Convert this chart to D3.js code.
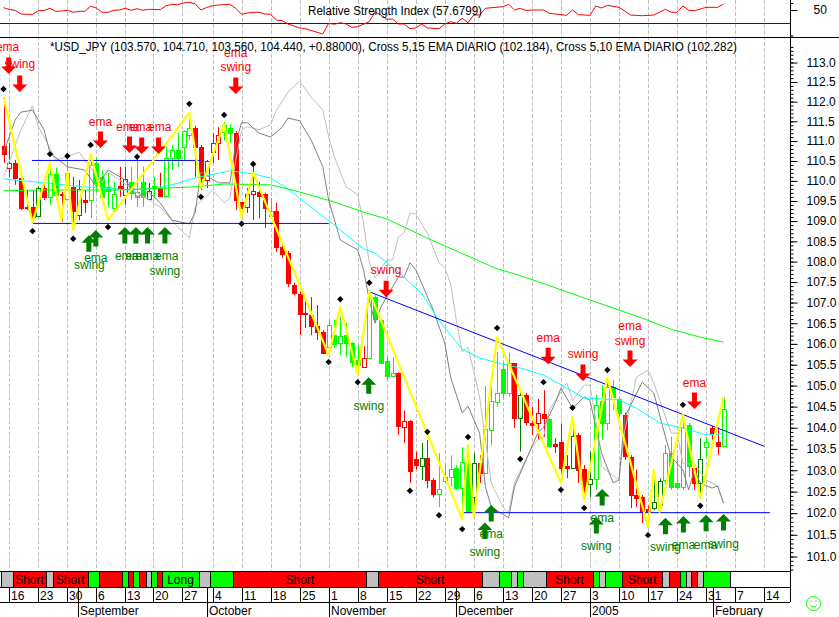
<!DOCTYPE html>
<html lang="en">
<head>
<meta charset="UTF-8">
<title>USD_JPY</title>
<script src="https://d3js.org/d3.v7.min.js"></script>
<style>
    body { margin: 0; background: #fff; }
    text { font-family: "Liberation Sans", Arial, sans-serif; font-size: 12px; }
    .grid line { stroke: #c0c0c0; stroke-dasharray: 4 2; }
    .axis path, .axis line { stroke: #000; }
    .axis text { fill: #000; font-size: 12px; }
</style>
</head>
<body>
<svg id="chart" width="839" height="617"></svg>
<script>
// candles, one entry per trading day. R/G filled, r/g/d hollow (d = dark green)
const bodyTops = [
    110.86,110.44,110.44,110.06,109.34,109.34,109.81,109.81,110.16,110.16,
    109.67,110.19,109.84,109.79,109.51,110.39,110.44,110.09,109.84,109.66,
    109.86,110.04,109.96,109.71,109.96,109.74,109.86,109.81,110.56,110.76,
    110.76,111.24,111.32,111.32,110.84,110.49,110.94,111.14,111.39,111.32,
    111.19,109.46,109.66,109.74,109.71,109.66,109.24,109.24,108.35,108.20,
    107.42,107.20,106.74,106.69,106.42,106.28,106.45,106.20,106.18,106.20,
    106.01,105.60,105.65,107.10,107.12,106.57,105.58,105.29,105.29,104.15,
    104.15,103.25,103.27,103.27,102.76,102.55,102.83,103.02,103.04,103.18,
    103.16,103.16,103.16,103.96,104.62,104.81,105.39,105.53,105.53,104.76,
    104.76,104.10,104.34,104.31,104.19,103.60,103.65,103.09,103.79,103.82,
    103.02,102.78,104.52,104.62,104.95,104.95,104.67,104.29,103.30,102.41,
    102.36,102.09,102.25,102.74,103.39,103.39,102.69,104.00,104.05,103.04,
    103.25,103.65,103.98,103.65,104.44];
const bodyBottoms = [
    110.66,110.31,110.06,109.31,109.31,109.09,109.11,109.59,109.59,109.64,
    109.65,109.54,109.24,109.14,109.46,109.51,109.94,109.59,109.74,109.31,
    109.81,109.64,109.69,109.59,109.59,109.54,109.84,109.61,109.61,110.56,
    110.56,110.84,111.14,110.84,110.06,110.01,110.71,110.94,111.22,111.19,
    109.51,109.31,109.34,109.66,109.61,109.31,109.11,108.35,108.18,107.47,
    107.22,106.71,106.71,106.42,106.28,105.77,105.91,105.98,106.01,106.01,
    105.55,105.48,105.43,105.65,106.59,105.53,105.22,105.22,104.03,104.00,
    102.97,103.11,103.09,102.76,102.43,102.43,102.74,102.83,102.57,102.57,
    102.04,102.36,102.92,102.92,103.93,104.60,104.81,104.81,104.22,104.22,
    104.12,104.05,104.10,104.22,103.55,103.55,103.04,103.04,103.04,102.99,
    102.51,102.67,102.78,104.10,104.10,104.72,104.34,103.32,102.41,102.34,
    102.02,102.04,102.11,102.18,102.76,102.60,102.60,102.60,103.09,102.69,
    102.69,103.53,103.84,103.55,103.57];
const highs = [
    112.10,110.94,110.51,110.14,109.76,109.74,109.86,109.96,110.44,110.31,
    109.71,110.56,110.09,110.01,109.76,110.51,110.56,110.26,110.19,109.96,
    110.34,110.34,110.34,110.59,110.34,109.94,110.09,110.19,110.84,110.89,
    111.19,111.26,111.57,111.37,110.89,110.51,111.19,111.34,111.47,111.42,
    111.24,109.46,109.81,110.34,109.96,109.69,109.56,109.44,108.40,108.25,
    107.47,107.25,107.12,107.12,106.93,106.32,106.57,106.57,106.64,106.49,
    106.03,105.96,105.93,107.30,107.17,106.61,105.67,105.67,105.31,104.39,
    104.17,103.42,103.63,103.70,102.80,103.39,103.11,103.34,103.11,103.53,
    103.58,103.39,103.34,104.98,105.00,105.79,105.55,105.77,105.53,104.88,
    104.81,104.48,104.67,104.88,104.22,103.74,104.08,103.34,104.03,103.87,
    103.11,103.42,104.77,105.00,105.12,105.12,104.69,104.34,103.34,103.00,
    102.41,102.16,102.76,102.80,103.58,103.77,103.34,104.17,104.10,103.09,
    103.74,103.77,104.03,104.00,104.71];
const lows = [
    110.44,110.09,109.89,109.26,109.26,108.97,109.09,109.51,109.39,109.51,
    108.97,109.51,108.94,109.01,109.19,109.06,109.71,109.51,109.34,109.26,
    109.59,109.39,109.51,109.34,109.34,109.51,109.59,109.59,109.59,110.26,
    110.34,110.51,111.01,110.09,109.76,109.81,110.44,110.51,111.01,110.94,
    109.26,109.09,109.19,109.01,109.06,108.82,109.06,108.23,108.08,107.37,
    107.17,106.20,106.37,106.20,106.08,105.74,105.70,105.89,105.72,105.67,
    105.43,105.31,105.41,105.65,106.49,105.50,105.12,105.19,103.82,103.63,
    102.69,103.00,102.76,102.57,102.36,102.13,102.69,102.60,102.53,102.06,
    102.02,102.13,102.69,102.90,103.58,104.48,104.69,104.72,103.98,103.42,
    104.05,103.82,103.70,103.77,103.53,103.39,102.83,102.80,103.02,102.69,
    102.36,102.36,102.53,103.70,103.93,104.41,104.24,103.23,102.11,102.13,
    101.76,101.83,102.06,102.02,102.69,102.53,102.53,102.53,102.83,102.53,
    102.34,103.30,103.70,103.34,103.56];
const candleKinds = [
    "R","r","R","R","R","R","d","R","g","G",
    "R","g","R","r","R","g","G","G","G","g",
    "R","r","G","g","G","d","G","R","g","g",
    "G","g","g","R","R","r","r","r","g","G",
    "R","R","r","r","R","R","g","R","R","R",
    "R","R","R","R","R","R","g","G","g","G",
    "G","G","r","g","G","G","G","g","R","r",
    "R","R","d","R","R","g","g","g","G","g",
    "G","d","R","g","g","g","G","g","R","d",
    "R","R","r","R","G","R","R","R","d","R",
    "R","d","g","G","g","G","G","R","R","R",
    "R","R","d","d","g","G","G","g","G","R",
    "d","g","R","R","g"];

// overlays as day index + price
const zigzagDays = [0,5,8,10,11,12,15,18,32,34,38,41,43,56,58,61,63,79,80,81,85,96,98,100,104,111,112,113,117,120,124];
const zigzagPrices = [112.10,108.95,110.44,109.01,110.21,108.77,110.66,109.01,111.70,109.81,111.42,109.09,110.19,105.72,106.88,105.26,107.25,101.85,103.58,101.90,106.15,102.69,104.24,102.29,105.17,101.67,103.00,102.02,104.29,102.34,104.71];

const diamondDays = [0,5,8,11,12,15,18,23,32,34,38,41,43,56,58,61,63,70,73,75,79,80,85,89,93,96,98,100,104,111,117,120];
const diamondPrices = [112.31,108.74,110.66,110.61,108.55,110.89,108.84,110.59,111.93,109.59,111.65,108.92,110.41,105.55,107.07,105.07,107.47,102.51,103.89,101.94,101.62,103.77,106.37,103.25,105.07,102.53,104.46,102.11,105.36,101.48,104.53,102.16];

const cyanDays = [0,7,14,22,26,29,33,39,43,46,49,52,57,62,64,68,72,75,79,82,85,89,93,97,100,106,109,113,117,121,124];
const cyanPrices = [110.04,109.94,109.84,109.76,109.81,109.89,110.06,110.24,110.16,110.06,109.79,109.44,108.89,108.30,108.20,107.73,107.22,106.55,105.86,105.65,105.53,105.41,105.24,104.93,104.69,104.65,104.45,104.10,103.98,103.82,103.84];

const greenDays = [0,6,20,33,38,46,51,57,62,66,74,85,88,92,100,110,115,120,124];
const greenPrices = [109.74,109.76,109.76,109.84,109.91,109.89,109.71,109.46,109.21,109.04,108.50,107.81,107.69,107.50,107.10,106.61,106.34,106.15,106.03];

const darkDays = [0,2,3,5,7,8,11,14,16,18,21,23,25,27,29,32,33,34,37,39,40,41,42,44,46,48,49,51,53,55,56,58,61,62,63,64,65,68,69,70,71,74,76,77,79,80,82,83,84,87,88,90,92,93,95,96,98,100,101,103,105,106,107,110,112,114,115,117,118,119,120,122,123,124];
const darkPrices = [110.69,111.52,111.72,111.77,111.27,110.69,110.34,110.26,109.84,110.26,110.01,109.59,109.71,109.44,109.01,108.92,109.19,110.21,109.94,109.94,110.94,111.45,111.45,111.19,111.09,111.34,111.57,111.50,111.01,110.34,109.51,108.52,108.28,107.79,107.05,106.49,106.88,107.61,107.61,107.96,107.79,106.81,106.01,105.19,104.34,104.50,103.86,102.60,102.13,101.88,102.60,103.23,103.86,104.00,104.57,104.93,104.45,104.72,104.64,103.39,102.69,102.76,104.24,105.07,104.81,103.77,103.30,103.00,102.53,103.00,102.69,102.57,102.62,102.22];

const lightDays = [0,3,5,6,7,9,11,13,17,18,20,23,27,30,32,33,36,38,39,40,41,42,44,46,47,49,51,53,55,56,57,59,61,62,63,64,66,67,68,69,70,71,73,75,76,77,78,79,80,82,83,84,86,87,88,91,92,93,94,97,98,100,101,102,103,106,107,109,111,112,114,115,116,117,119,121,123,124];
const lightPrices = [110.09,111.27,111.88,111.35,111.09,110.51,110.59,110.71,109.94,110.21,110.01,109.69,109.34,108.84,108.57,109.34,109.76,109.44,109.56,110.51,111.27,111.35,111.27,111.40,111.77,112.23,112.51,112.10,111.77,111.09,110.59,109.84,109.64,108.94,107.96,107.59,108.03,108.03,108.60,108.69,109.19,109.16,108.69,107.96,107.84,107.44,106.55,105.79,105.91,104.72,103.70,102.69,102.13,102.00,102.69,103.53,103.70,103.77,104.41,105.05,104.64,105.00,105.00,104.17,103.07,102.76,103.93,105.19,105.36,105.05,104.24,103.86,103.86,103.14,103.14,102.76,102.62,102.22];

// blue trend lines: [day, price, day, price]
const trendLines = [
    [4.9, 110.50, 34, 110.50],
    [5, 108.93, 56, 108.93],
    [63, 107.25, 131, 103.55],
    [79, 102.00, 132, 102.00]];

// signals
const redArrowDays = [0.9,2.8,16.7,21.7,23.8,26.7,40,65.9,93.8,99.8,107.9,119];
const redArrowPrices = [112.69,112.23,110.81,110.69,110.66,110.66,112.18,107.12,105.50,105.10,105.43,104.43];
const greenArrowDays = [14.7,15.9,20.9,22.8,24.8,27.8,62.9,84,82.9,103.1,102.1,114,117.1,121,124];
const greenArrowPrices = [108.64,108.77,108.84,108.84,108.84,108.84,105.19,102.18,101.77,102.55,101.90,101.88,101.92,101.95,101.97];

const redLabels = ["ema","swing","ema","ema","ema","ema","ema","swing","swing","ema","swing","ema","swing","ema"];
const redLabelDays = [0.7,2.8,16.7,21.4,23.6,26.9,40,40,65.9,93.8,99.8,107.9,107.9,119];
const redLabelPrices = [113.38,112.95,111.47,111.34,111.34,111.34,113.23,112.87,107.79,106.13,105.74,106.42,106.06,105.05];
const greenLabels = ["swing","ema","ema","ema","ema","ema","swing","swing","ema","swing","ema","swing","swing","ema","ema","swing"];
const greenLabelDays = [14.8,15.9,21.2,23,24.8,28.1,27.8,62.9,84,82.9,103.1,102.1,114,117.1,120.9,124];
const greenLabelPrices = [107.91,108.08,108.13,108.13,108.13,108.13,107.76,104.50,101.50,101.09,101.88,101.23,101.21,101.25,101.25,101.28];

// RSI
const rsiDays = [0,1,2,3,4,5,6,7,8,9,10,11,12,13,14,15,16,17,18,19,20,21,22,23,24,25,27,28,29,30,31,32,33,34,35,36,37,39,40,41,42,43,44,45,46,47,48,49,51,52,55,56,57,58,59,60,61,63,64,65,66,67,68,69,70,71,72,73,75,76,77,78,79,80,81,82,83,86,87,88,89,90,91,93,94,96,97,98,99,101,102,103,104,106,108,110,112,114,115,116,117,118,119,121,123,124];
const rsiValues = [52.6,50,48.9,43.6,43.1,43.1,48.3,48.6,51.7,47.4,47.9,48.9,46,47.4,47.4,54.6,52.1,46,46,48.9,49.3,51.7,48.9,51.1,48.9,50.3,49.7,55.4,57.4,56.9,59.3,60.3,58.3,49.3,52.9,55.4,56.4,57.4,51.7,43.1,45,46,46,43.6,43.1,35,34,29.3,23.6,22.6,15,30.3,28.9,31.1,29.3,24.6,25.4,32.6,46.4,42.1,36,36.4,29.3,29.3,22.6,23.6,29.3,23.6,22.6,29.3,32.6,30.3,37.4,31.1,42.1,42.1,51.7,54,57.4,49.3,51.7,48.6,49.3,49.3,44.6,42.6,41.7,49.3,42.6,41.7,55,52.1,56,53.1,42.1,41.1,42.1,50.3,46,46,55,48.9,48.3,53.1,53.1,57.68];
const rsiLevel = 30;
const rsiTicks = [50];
const rsiMinorTicks = [60,13.6];

// time axis
const dayTickDays = [1,6,11,16,21,25.8,30.8,36,41,46,51,56,61,66,71,76,81,86,91,96,101,106,111,116,121,126,131];
const dayTickLabels = ["16","23","30","6","13","20","27","4","11","18","25","1","8","15","22","29","6","13","20","27","3","10","17","24","31","7","14"];
const monthDays = [12.9,35.1,56,78,101,122.2];
const monthLabels = ["September","October","November","December","2005","February"];

// position band: segment edges (day index), one state per segment
const bandEdges = [-0.43,1.58,7.37,8.47,14.5,16.4,20.46,21.39,22.36,23.39,24.49,25.46,26.39,27.35,33.62,35.52,39.58,62.49,64.45,82.47,85.4,87.46,88.5,89.43,93.39,101.59,102.62,103.55,106.58,113.47,114.57,116.52,117.5,118.47,119.5,120.54,125.08];
const bandStates = ["n","s","n","s","l","s","l","s","l","s","n","l","s","l","n","l","s","n","s","n","l","n","l","n","s","l","n","l","s","n","s","l","n","s","n","l"];
const bandLabels = ["","Short","","Short","","","","","","","","","","Long","","","Short","","Short","","","","","","Short","","","","Short","","","","","","",""];

const priceMajor = d3.range(101, 113.01, 0.5);
const priceMinor = d3.range(100.7, 113.45, 0.1);

const axisX = 790;
const plotBottom = 571;

const svg = d3.select("#chart");
const x = d3.scaleLinear().domain([0, 124]).range([3.5, 723.5]);
const y = d3.scaleLog().domain([101, 113]).range([556, 62]);
const rsiY = d3.scaleLinear().domain([30, 50]).range([23.5, 9.5]);

// grid
svg.append("g").attr("class", "grid")
    .selectAll("line").data(dayTickDays).enter().append("line")
    .attr("x1", d => Math.round(x(d)) + .5).attr("x2", d => Math.round(x(d)) + .5)
    .attr("y1", 0).attr("y2", plotBottom);

// rsi panel
svg.append("line")
    .attr("x1", 0).attr("x2", axisX)
    .attr("y1", rsiY(rsiLevel)).attr("y2", rsiY(rsiLevel))
    .attr("stroke", "#0000ff");
svg.append("path")
    .attr("fill", "none").attr("stroke", "#ff0000")
    .attr("d", d3.line().x(d => x(d[0])).y(d => rsiY(d[1]))(d3.zip(rsiDays, rsiValues)));
svg.append("text").attr("x", 308).attr("y", 15).attr("fill", "#000")
    .attr("textLength", 174).attr("lengthAdjust", "spacingAndGlyphs")
    .text("Relative Strength Index (57.6799)");

svg.append("g").attr("class", "axis").attr("transform", `translate(${axisX + .5},0.5)`)
    .call(d3.axisRight(rsiY).tickValues(rsiTicks).tickSize(7).tickPadding(16).tickSizeOuter(0).tickFormat(d3.format("d")))
    .call(g => g.select(".domain").remove());
svg.append("g").attr("class", "axis").attr("transform", `translate(${axisX + .5},0.5)`)
    .call(d3.axisRight(rsiY).tickValues(rsiMinorTicks).tickSize(3).tickFormat(""))
    .call(g => g.select(".domain").remove());

// candles
const candleColor = { R: "#ff0000", r: "#ff0000", G: "#00ff00", g: "#00ff00", d: "#008000" };
const isFilled = k => k === "R" || k === "G";
const days = d3.range(bodyTops.length);
const candles = svg.append("g").selectAll("g").data(days).enter().append("g");
candles.append("line")
    .attr("x1", d => Math.round(x(d)) + .5).attr("x2", d => Math.round(x(d)) + .5)
    .attr("y1", d => y(highs[d])).attr("y2", d => y(lows[d]))
    .attr("stroke", d => candleColor[candleKinds[d]]);
candles.append("rect")
    .attr("x", d => Math.round(x(d)) - 2 + .5)
    .attr("y", d => Math.round(y(bodyTops[d])) + .5)
    .attr("width", 4)
    .attr("height", d => Math.max(1, Math.round(y(bodyBottoms[d]) - y(bodyTops[d]))))
    .attr("fill", d => isFilled(candleKinds[d]) ? candleColor[candleKinds[d]] : "#fff")
    .attr("stroke", d => candleColor[candleKinds[d]]);

// moving averages
function drawLine(days, prices, color, width) {
    svg.append("path")
        .attr("fill", "none").attr("stroke", color).attr("stroke-width", width)
        .attr("stroke-linejoin", "round")
        .attr("d", d3.line().x(d => x(d[0])).y(d => y(d[1]))(d3.zip(days, prices)));
}
drawLine(lightDays, lightPrices, "#c0c0c0", 1);
drawLine(darkDays, darkPrices, "#808080", 1);
drawLine(cyanDays, cyanPrices, "#00ffff", 1);
drawLine(greenDays, greenPrices, "#00ff00", 1);

// trend lines
svg.append("g").selectAll("line").data(trendLines).enter().append("line")
    .attr("x1", d => x(d[0])).attr("y1", d => y(d[1]))
    .attr("x2", d => x(d[2])).attr("y2", d => y(d[3]))
    .attr("stroke", "#0000ff");

drawLine(zigzagDays, zigzagPrices, "#ffff00", 2.2);

// swing points
svg.append("g").selectAll("path").data(diamondDays).enter().append("path")
    .attr("d", d3.symbol().type(d3.symbolDiamond2).size(26))
    .attr("transform", (d, i) => `translate(${x(d)},${y(diamondPrices[i])})`)
    .attr("fill", "#000");

// arrows, tip sits on the signal price
const arrowDown = "M0,0L-7.5,-7.5L-2.5,-7.5L-2.5,-16.5L2.5,-16.5L2.5,-7.5L7.5,-7.5Z";
const arrowUp = "M0,0L-7.5,7.5L-2.5,7.5L-2.5,16.5L2.5,16.5L2.5,7.5L7.5,7.5Z";
svg.append("g").selectAll("path").data(redArrowDays).enter().append("path")
    .attr("d", arrowDown).attr("fill", "#ff0000")
    .attr("transform", (d, i) => `translate(${x(d)},${y(redArrowPrices[i])})`);
svg.append("g").selectAll("path").data(greenArrowDays).enter().append("path")
    .attr("d", arrowUp).attr("fill", "#008000")
    .attr("transform", (d, i) => `translate(${x(d)},${y(greenArrowPrices[i])})`);

svg.append("g").selectAll("text").data(redLabels).enter().append("text")
    .attr("x", (d, i) => x(redLabelDays[i])).attr("y", (d, i) => y(redLabelPrices[i]))
    .attr("dy", "0.35em").attr("text-anchor", "middle").attr("fill", "#ff0000")
    .text(d => d);
svg.append("g").selectAll("text").data(greenLabels).enter().append("text")
    .attr("x", (d, i) => x(greenLabelDays[i])).attr("y", (d, i) => y(greenLabelPrices[i]))
    .attr("dy", "0.35em").attr("text-anchor", "middle").attr("fill", "#008000")
    .text(d => d);

svg.append("text").attr("x", 50).attr("y", 51).attr("fill", "#000")
    .attr("textLength", 687).attr("lengthAdjust", "spacingAndGlyphs")
    .text("*USD_JPY (103.570, 104.710, 103.560, 104.440, +0.88000), Cross 5,15 EMA DIARIO (102.184), Cross 5,10 EMA DIARIO (102.282)");

// price axis
svg.append("g").attr("class", "axis").attr("transform", `translate(${axisX + .5},0.5)`)
    .call(d3.axisRight(y).tickValues(priceMinor).tickSize(3).tickFormat(""))
    .call(g => g.select(".domain").remove());
svg.append("g").attr("class", "axis").attr("transform", `translate(${axisX + .5},0.5)`)
    .call(d3.axisRight(y).tickValues(priceMajor).tickSize(7).tickPadding(9).tickFormat(d3.format(".1f")))
    .call(g => g.select(".domain").remove());

// frame
const hLine = (py, x2) => svg.append("line").attr("x1", 0).attr("x2", x2).attr("y1", py).attr("y2", py).attr("stroke", "#000");
hLine(37.5, 839);
hLine(571.5, axisX);
hLine(587.5, axisX);
hLine(602.5, axisX);
svg.append("line").attr("x1", axisX + .5).attr("x2", axisX + .5).attr("y1", 0).attr("y2", 602).attr("stroke", "#000");

// position band
const bandColor = { n: "#c0c0c0", s: "#ff0000", l: "#00ff00" };
const band = svg.append("g").selectAll("g").data(bandStates).enter().append("g");
band.append("rect")
    .attr("x", (d, i) => Math.round(x(bandEdges[i])) + .5)
    .attr("y", 571.5)
    .attr("width", (d, i) => Math.round(x(bandEdges[i + 1])) - Math.round(x(bandEdges[i])))
    .attr("height", 16)
    .attr("fill", d => bandColor[d]).attr("stroke", "#000");
band.append("text")
    .attr("x", (d, i) => (x(bandEdges[i]) + x(bandEdges[i + 1])) / 2)
    .attr("y", 584).attr("text-anchor", "middle").attr("fill", "#000")
    .text((d, i) => bandLabels[i]);

// date rows
const dayRow = svg.append("g").selectAll("g").data(dayTickDays).enter().append("g");
dayRow.append("line")
    .attr("x1", d => Math.round(x(d)) + .5).attr("x2", d => Math.round(x(d)) + .5)
    .attr("y1", 587).attr("y2", 602).attr("stroke", "#000");
dayRow.append("text")
    .attr("x", d => Math.round(x(d)) + 2).attr("y", 600).attr("fill", "#000")
    .text((d, i) => dayTickLabels[i]);

const monthRow = svg.append("g").selectAll("g").data(monthDays).enter().append("g");
monthRow.append("line")
    .attr("x1", d => Math.round(x(d)) + .5).attr("x2", d => Math.round(x(d)) + .5)
    .attr("y1", 587).attr("y2", 617).attr("stroke", "#000");
monthRow.append("text")
    .attr("x", d => Math.round(x(d)) + 2).attr("y", 615).attr("fill", "#000")
    .text((d, i) => monthLabels[i]);

// smiley
const smiley = svg.append("g").attr("transform", "translate(813.5,603.5)")
    .attr("fill", "none").attr("stroke", "#00ff00");
smiley.append("circle").attr("r", 7);
smiley.append("path").attr("d", "M-3.5,1.5Q0,5.5 3.5,1.5");
smiley.append("path").attr("d", "M-2.5,-3v1.5M2.5,-3v1.5");
</script>
</body>
</html>
